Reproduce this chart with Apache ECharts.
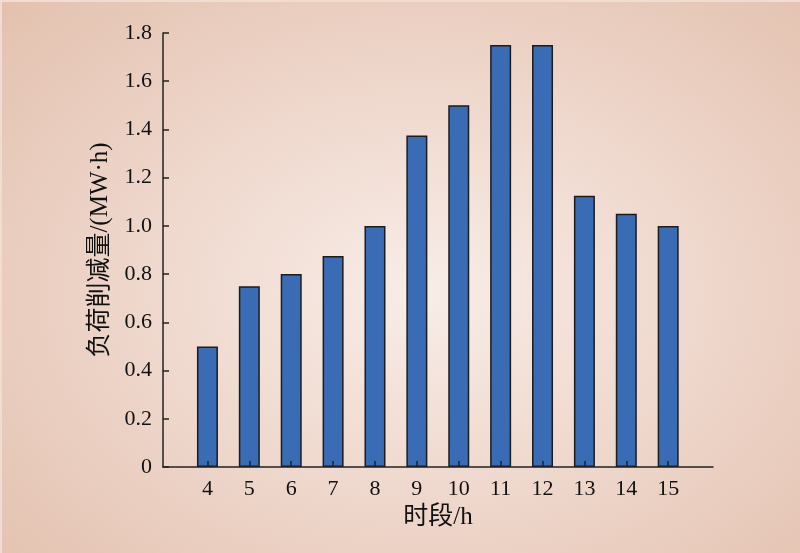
<!DOCTYPE html>
<html>
<head>
<meta charset="utf-8">
<script src="https://cdn.jsdelivr.net/npm/echarts@6/dist/echarts.min.js"></script>
<style>
html,body{margin:0;padding:0;}
#c{width:800px;height:553px;background:radial-gradient(ellipse 75% 80% at 53% 53%, #f8ede8 0%, #efd8cd 45%, #e2bfac 100%);box-shadow: inset 2px 2px 0 #f0dcd1;}
</style>
</head>
<body>
<div id="c"></div>
<script>
var categories = [4, 5, 6, 7, 8, 9, 10, 11, 12, 13, 14, 15];
var values = [0.5, 0.75, 0.8, 0.875, 1.0, 1.375, 1.5, 1.75, 1.75, 1.125, 1.05, 1.0];
var yTicks = [0, 0.2, 0.4, 0.6, 0.8, 1.0, 1.2, 1.4, 1.6, 1.8];
var xTitle = '时段/h';
var yTitle = '负荷削减量/(MW·h)';

var barData = categories.map(function (c, i) { return [c, values[i]]; });

var serif = '"Liberation Serif", "Times New Roman", "Noto Sans CJK SC", serif';
var chart = echarts.init(document.getElementById('c'), null, {renderer: 'canvas'});
chart.setOption({
  backgroundColor: 'transparent',
  animation: false,
  grid: {left: 163, right: 87, top: 33, bottom: 86, containLabel: false},
  xAxis: {
    type: 'value',
    min: 2.939, max: 16.07,
    z: 5,
    name: xTitle,
    nameLocation: 'middle',
    nameGap: 37,
    nameTextStyle: {fontFamily: serif, fontSize: 25, color: '#111'},
    axisLine: {lineStyle: {color: '#222', width: 1.5}},
    axisTick: {show: true, inside: true, length: 6, lineStyle: {color: '#222', width: 1.5},
      customValues: categories},
    axisLabel: {fontFamily: serif, fontSize: 22, color: '#111', margin: 11,
      customValues: categories,
      formatter: function (v) { return String(Math.round(v)); }},
    splitLine: {show: false}
  },
  yAxis: {
    type: 'value',
    min: 0, max: 1.8, interval: 0.2,
    z: 5,
    name: yTitle,
    nameLocation: 'middle',
    nameGap: 50,
    nameRotate: 90,
    nameTextStyle: {fontFamily: serif, fontSize: 25, color: '#111'},
    axisLine: {show: true, lineStyle: {color: '#222', width: 1.5}},
    axisTick: {show: true, inside: true, length: 6, lineStyle: {color: '#222', width: 1.5}},
    axisLabel: {fontFamily: serif, fontSize: 22, color: '#111', margin: 11,
      formatter: function (v) {
        var t = yTicks.find(function (k) { return Math.abs(k - v) < 1e-9; });
        if (t === undefined) return '';
        return t === 0 ? '0' : t.toFixed(1);
      }},
    splitLine: {show: false}
  },
  series: [{
    type: 'bar',
    data: barData,
    barWidth: 21,
    itemStyle: {color: '#3a6cb5', borderColor: '#1c1c1c', borderWidth: 1.5}
  }]
});
</script>
</body>
</html>
